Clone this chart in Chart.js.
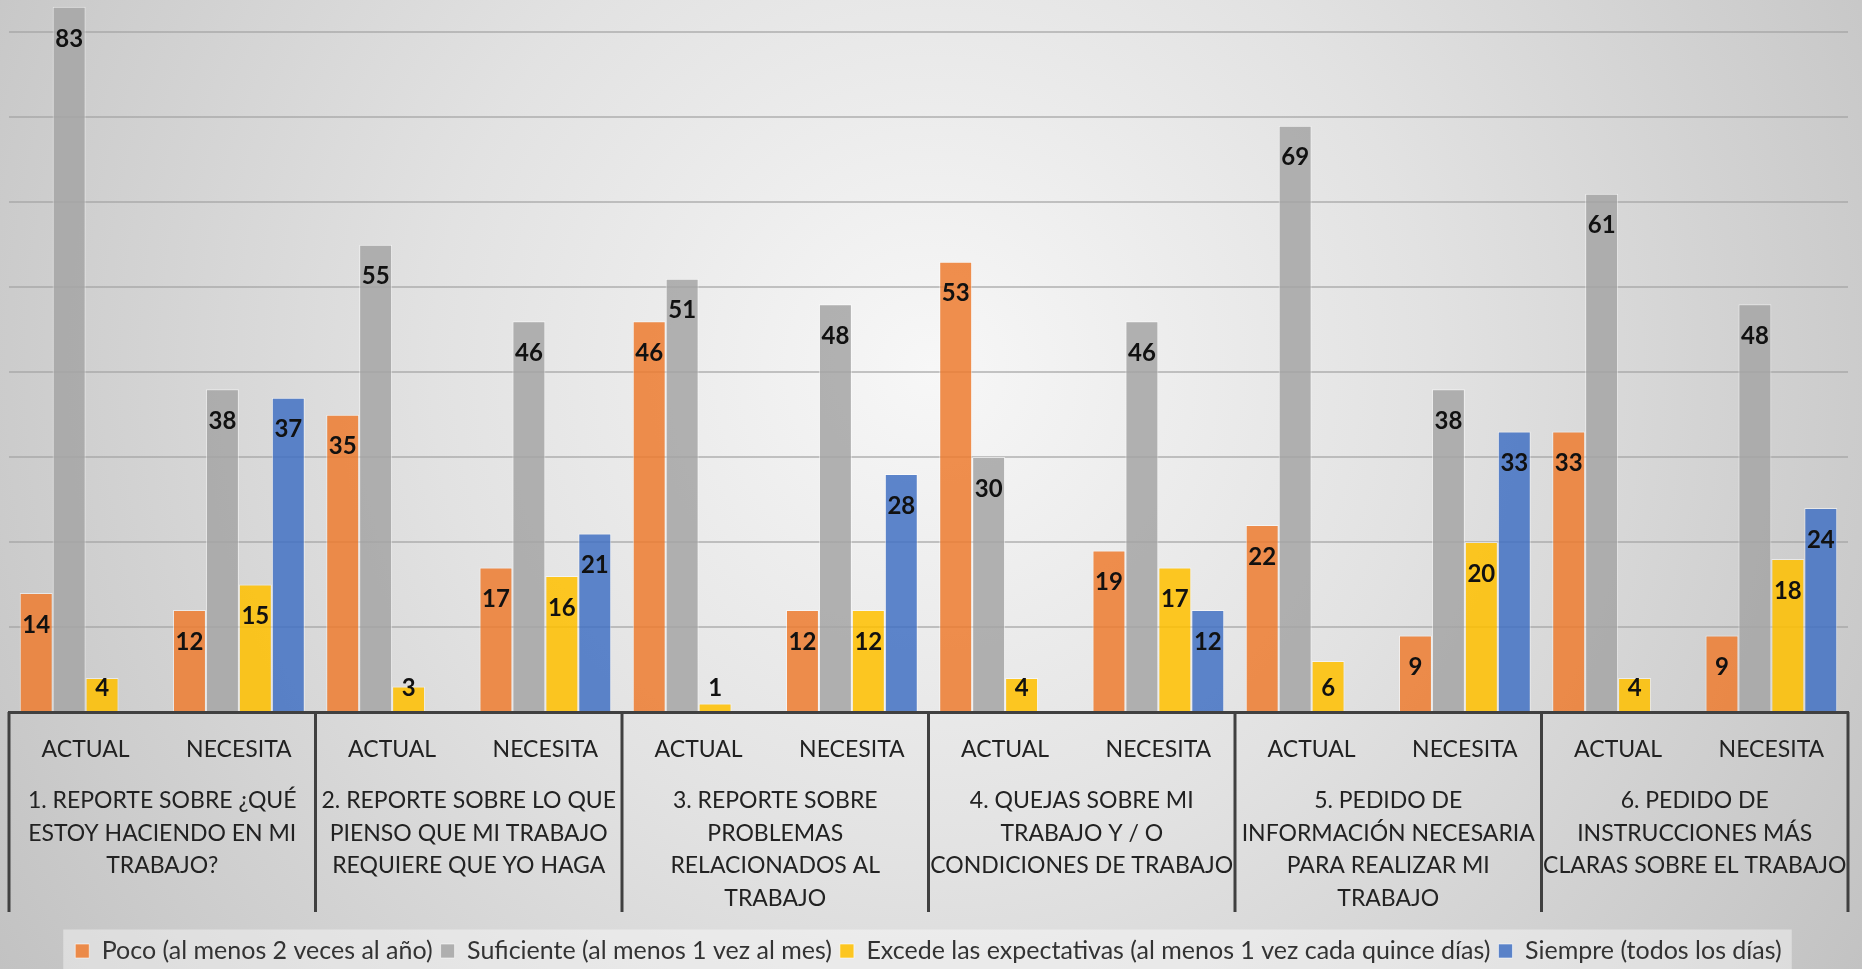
<!DOCTYPE html>
<html>
<head>
<meta charset="utf-8">
<script src="https://cdn.jsdelivr.net/npm/chart.js@4.4.0/dist/chart.umd.min.js"></script>
<style>
  html, body { margin: 0; padding: 0; }
  body {
    width: 1862px; height: 969px; overflow: hidden;
    background: radial-gradient(circle at 50% 38%, #f7f7f7 0%, #e2e2e2 45%, #cbcbcb 85%, #c2c2c2 100%);
  }
  canvas { display: block; }
</style>
</head>
<body>
<canvas id="myChart" width="1862" height="969"></canvas>
<script>
const categories = ['ACTUAL', 'NECESITA', 'ACTUAL', 'NECESITA', 'ACTUAL', 'NECESITA',
                    'ACTUAL', 'NECESITA', 'ACTUAL', 'NECESITA', 'ACTUAL', 'NECESITA'];
const groups = [
    ['1. REPORTE SOBRE ¿QUÉ', 'ESTOY HACIENDO EN MI', 'TRABAJO?'],
    ['2. REPORTE SOBRE LO QUE', 'PIENSO QUE MI TRABAJO', 'REQUIERE QUE YO HAGA'],
    ['3. REPORTE SOBRE', 'PROBLEMAS', 'RELACIONADOS AL', 'TRABAJO'],
    ['4. QUEJAS SOBRE MI', 'TRABAJO Y / O', 'CONDICIONES DE TRABAJO'],
    ['5. PEDIDO DE', 'INFORMACIÓN NECESARIA', 'PARA REALIZAR MI', 'TRABAJO'],
    ['6. PEDIDO DE', 'INSTRUCCIONES MÁS', 'CLARAS SOBRE EL TRABAJO']
];
const seriesNames = ['Poco (al menos 2 veces al año)', 'Suficiente (al menos 1 vez al mes)',
                     'Excede las expectativas (al menos 1 vez cada quince días)', 'Siempre (todos los días)'];
const poco       = [14, 12, 35, 17, 46, 12, 53, 19, 22, 9, 33, 9];
const suficiente = [83, 38, 55, 46, 51, 48, 30, 46, 69, 38, 61, 48];
const excede     = [4, 15, 3, 16, 1, 12, 4, 17, 6, 20, 4, 18];
const siempre    = [null, 37, null, 21, null, 28, null, 12, null, 33, null, 24];
const colors = ['rgba(237,125,49,0.86)', 'rgba(165,165,165,0.86)', 'rgba(255,192,0,0.86)', 'rgba(68,114,196,0.86)'];

// push the legend a bit lower, like the original
const legendShift = {
    id: 'legendShift',
    afterUpdate(chart) {
        chart.legend.top += 4.5;
        chart.legend.bottom += 4.5;
    }
};

const legendBg = {
    id: 'legendBg',
    beforeDraw(chart) {
        const boxes = chart.legend.legendHitBoxes;
        if (!boxes || !boxes.length) return;
        const ctx = chart.ctx;
        const l = boxes[0].left - 12;
        const r = boxes[boxes.length - 1].left + boxes[boxes.length - 1].width + 10;
        ctx.save();
        ctx.fillStyle = 'rgba(255,255,255,0.4)';
        ctx.fillRect(l, chart.legend.top - 1, r - l, 969 - chart.legend.top + 1);
        ctx.restore();
    }
};

const valueLabels = {
    id: 'valueLabels',
    afterDatasetsDraw(chart) {
        const ctx = chart.ctx;
        ctx.save();
        ctx.font = 'bold 24px Lato';
        ctx.fillStyle = '#111';
        ctx.textAlign = 'center';
        ctx.textBaseline = 'middle';
        chart.data.datasets.forEach((ds, i) => {
            chart.getDatasetMeta(i).data.forEach((bar, j) => {
                const v = ds.data[j];
                if (v == null) return;
                const y = Math.min(bar.y + 32, bar.base - 23);
                ctx.fillText(String(v), bar.x, y);
            });
        });
        ctx.restore();
    }
};

const groupAxis = {
    id: 'groupAxis',
    afterDraw(chart) {
        const ctx = chart.ctx;
        const xs = chart.scales.x;
        const half = (xs.getPixelForValue(1) - xs.getPixelForValue(0)) / 2;
        const top = chart.chartArea.bottom;
        ctx.save();
        ctx.strokeStyle = '#404040';
        ctx.lineWidth = 3;
        for (let g = 0; g <= groups.length; g++) {
            const x = g < groups.length ? xs.getPixelForValue(2 * g) - half : xs.getPixelForValue(2 * g - 1) + half;
            ctx.beginPath();
            ctx.moveTo(x, top);
            ctx.lineTo(x, top + 200);
            ctx.stroke();
        }
        ctx.font = '23px Lato';
        ctx.fillStyle = '#222';
        ctx.textAlign = 'center';
        ctx.textBaseline = 'middle';
        groups.forEach((lines, g) => {
            const cx = (xs.getPixelForValue(2 * g) + xs.getPixelForValue(2 * g + 1)) / 2;
            lines.forEach((t, k) => ctx.fillText(t, cx, top + 89 + k * 32.5));
        });
        ctx.restore();
    }
};

const ctx = document.getElementById('myChart').getContext('2d');
const myChart = new Chart(ctx, {
    type: 'bar',
    data: {
        labels: categories,
        datasets: [poco, suficiente, excede, siempre].map((d, i) => ({
            label: seriesNames[i],
            data: d,
            backgroundColor: colors[i],
            borderColor: 'rgba(255,255,255,0.55)',
            borderWidth: 1,
            categoryPercentage: 0.86,
            barPercentage: 1
        }))
    },
    options: {
        responsive: false,
        animation: false,
        layout: { padding: { left: 9, right: 14, top: 0, bottom: 0 } },
        scales: {
            y: {
                min: 0,
                max: 83.8,
                ticks: { display: false, stepSize: 10 },
                grid: {
                    drawTicks: false,
                    lineWidth: 2,
                    color: c => (c.tick.value > 0 && c.tick.value % 10 === 0) ? 'rgba(160,160,160,0.6)' : 'transparent'
                },
                border: { display: false },
                afterFit: s => { s.width = 0; }
            },
            x: {
                grid: { display: false },
                border: { color: '#404040', width: 3 },
                ticks: {
                    font: { family: 'Lato', size: 23 },
                    color: '#222',
                    padding: 16,
                    maxRotation: 0,
                    autoSkip: false
                },
                afterFit: s => { s.height = 214; }
            }
        },
        plugins: {
            legend: {
                position: 'bottom',
                labels: {
                    font: { family: 'Lato', size: 25 },
                    color: '#333',
                    boxWidth: 14,
                    boxHeight: 14,
                    padding: 8
                }
            },
            tooltip: { enabled: false }
        }
    },
    plugins: [legendShift, legendBg, valueLabels, groupAxis]
});
</script>
</body>
</html>
